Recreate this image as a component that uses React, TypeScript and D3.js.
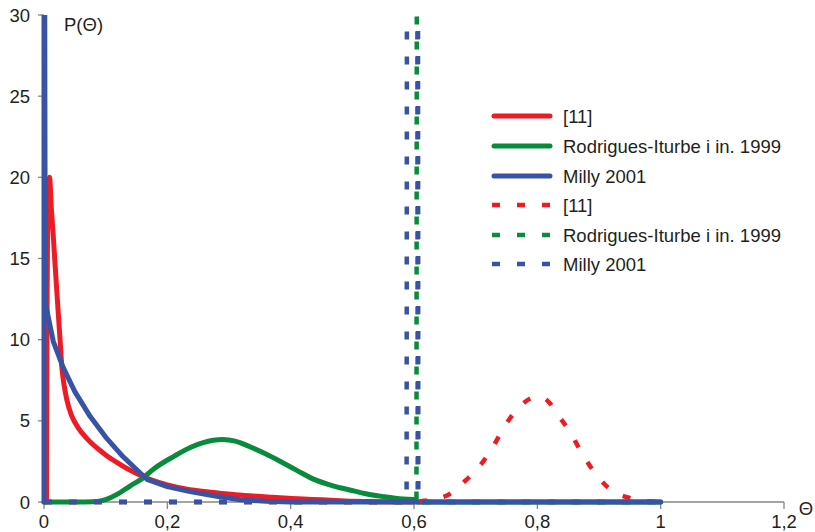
import React from "react";
import * as d3 from "d3";

const xTicks = [0, 0.2, 0.4, 0.6, 0.8, 1, 1.2];
const xTickLabels = ["0", "0,2", "0,4", "0,6", "0,8", "1", "1,2"];
const yTicks = [0, 5, 10, 15, 20, 25, 30];

const redSolidX = [0.004, 0.005, 0.007, 0.009, 0.012, 0.015, 0.018, 0.022, 0.026, 0.029, 0.033, 0.037, 0.045, 0.055, 0.065, 0.075, 0.09, 0.1, 0.12, 0.14, 0.156, 0.175, 0.2, 0.23, 0.27, 0.31, 0.37, 0.42, 0.45, 0.5, 0.6];
const redSolidY = [0, 12, 19.2, 20, 18, 16.4, 14.6, 12.3, 10, 8.3, 7.1, 6.3, 5.3, 4.6, 4.1, 3.7, 3.2, 2.9, 2.4, 1.95, 1.65, 1.35, 1.05, 0.8, 0.6, 0.45, 0.29, 0.18, 0.14, 0.04, 0];

const greenSolidX = [0, 0.05, 0.08, 0.1, 0.12, 0.14, 0.156, 0.18, 0.21, 0.24, 0.274, 0.29, 0.31, 0.334, 0.36, 0.388, 0.41, 0.44, 0.47, 0.496, 0.52, 0.55, 0.582, 0.6, 0.605, 0.61, 1.0];
const greenSolidY = [0, 0, 0.02, 0.15, 0.5, 1.0, 1.36, 2.1, 2.8, 3.4, 3.8, 3.85, 3.75, 3.4, 2.95, 2.4, 1.95, 1.36, 0.98, 0.74, 0.52, 0.33, 0.18, 0.15, 0, 0, 0];

const blueSolidX = [0, 0, 0.002, 0.015, 0.031, 0.05, 0.075, 0.1, 0.128, 0.15, 0.167, 0.2, 0.237, 0.28, 0.318, 0.36, 0.4, 0.6, 0.8, 1.0];
const blueSolidY = [0, 60, 12.3, 9.9, 8.3, 6.8, 5.26, 4.0, 2.8, 2.0, 1.4, 0.95, 0.64, 0.35, 0.14, 0.04, 0, 0, 0, 0];

const redDashX = [0, 0.3, 0.6, 0.62, 0.655, 0.68, 0.704, 0.728, 0.75, 0.775, 0.79, 0.804, 0.82, 0.831, 0.853, 0.874, 0.898, 0.923, 0.945, 0.966, 1.0];
const redDashY = [0, 0, 0, 0.1, 0.43, 1.2, 2.1, 3.4, 4.85, 6.0, 6.4, 6.5, 6.1, 5.5, 4.3, 2.9, 1.56, 0.64, 0.3, 0.1, 0];

const greenDashX = [0, 0.3, 0.604, 0.605, 0.606, 0.8, 1.0];
const greenDashY = [0, 0, 0, 60, 0, 0, 0];

const blueDashX = [0, 0.3, 0.588, 0.589, 0.606, 0.607, 0.8, 1.0];
const blueDashY = [0, 0, 0, 60, 60, 0, 0, 0];

const seriesNames = ["[11]", "Rodrigues-Iturbe i in. 1999", "Milly 2001", "[11]", "Rodrigues-Iturbe i in. 1999", "Milly 2001"];

const RED = "#ed1c24";
const GREEN = "#0a8a3c";
const BLUE = "#3953a4";
const AXIS = "#868686";
const TEXT = "#231f20";
const FONT = "'Liberation Sans', Arial, sans-serif";

export default function App() {
  const W = 815, H = 532;
  const x = d3.scaleLinear().domain([0, 1.2]).range([44, 784]);
  const y = d3.scaleLinear().domain([0, 30]).range([502, 15]);
  const line = d3.line<[number, number]>().x(d => x(d[0])).y(d => y(d[1])).curve(d3.curveMonotoneX);
  const straight = d3.line<[number, number]>().x(d => x(d[0])).y(d => y(d[1]));
  const zip = (xs: number[], ys: number[]) => xs.map((v, i) => [v, ys[i]] as [number, number]);

  const series = [
    { xs: redSolidX, ys: redSolidY, color: RED, dash: false },
    { xs: greenSolidX, ys: greenSolidY, color: GREEN, dash: false },
    { xs: blueSolidX, ys: blueSolidY, color: BLUE, dash: false },
    { xs: redDashX, ys: redDashY, color: RED, dash: true },
    { xs: greenDashX, ys: greenDashY, color: GREEN, dash: true },
    { xs: blueDashX, ys: blueDashY, color: BLUE, dash: true },
  ];

  const legendY = [116, 146, 176, 205, 235, 264];

  const pathFor = (s: { xs: number[]; ys: number[] }, i: number) => {
    const pts = zip(s.xs, s.ys);
    // series with vertical jumps are drawn with straight segments
    return (i === 0 || i === 1 || i === 3 ? line(pts) : straight(pts)) || "";
  };

  return (
    <svg width={W} height={H} style={{ position: "absolute", left: 0, top: 0, background: "#fff" }} fontFamily={FONT}>
      <defs>
        <clipPath id="plotClip">
          <rect x={40} y={15} width={760} height={492} />
        </clipPath>
      </defs>
      {/* axes */}
      <line x1={x(0)} x2={x(1.2)} y1={y(0)} y2={y(0)} stroke={AXIS} strokeWidth={1.3} />
      <line x1={x(0)} x2={x(0)} y1={y(0)} y2={y(30)} stroke={AXIS} strokeWidth={1.3} />
      {yTicks.map(t => (
        <g key={"y" + t}>
          <line x1={38} x2={x(0)} y1={y(t)} y2={y(t)} stroke={AXIS} strokeWidth={1.3} />
          <text x={30} y={y(t)} dy="0.36em" textAnchor="end" fontSize={18.5} fill={TEXT}>{t}</text>
        </g>
      ))}
      {xTicks.map((t, i) => (
        <g key={"x" + t}>
          <line x1={x(t)} x2={x(t)} y1={y(0)} y2={y(0) + 7} stroke={AXIS} strokeWidth={1.3} />
          <text x={x(t)} y={528} textAnchor="middle" fontSize={18.5} fill={TEXT}>{xTickLabels[i]}</text>
        </g>
      ))}
      <text x={64} y={31} fontSize={18.5} fill={TEXT}>P(Θ)</text>
      <text x={806} y={515} textAnchor="middle" fontSize={18.5} fill={TEXT}>Θ</text>

      {/* series */}
      <g clipPath="url(#plotClip)">
        {series.map((s, i) => (
          <path key={i} d={pathFor(s, i)} fill="none" stroke={s.color}
            strokeWidth={s.dash ? 4.5 : 5} strokeLinejoin="round" strokeLinecap={s.dash ? "butt" : "round"}
            strokeDasharray={s.dash ? "8 17" : undefined} />
        ))}
      </g>

      {/* legend */}
      {series.map((s, i) => (
        <g key={"l" + i}>
          <line x1={s.dash ? 492 : 494} x2={s.dash ? 552 : 550} y1={legendY[i]} y2={legendY[i]} stroke={s.color}
            strokeWidth={s.dash ? 4.5 : 5} strokeLinecap={s.dash ? "butt" : "round"}
            strokeDasharray={s.dash ? "8 17" : undefined} />
          <text x={563} y={legendY[i]} dy="0.36em" fontSize={18.5} fill={TEXT}>{seriesNames[i]}</text>
        </g>
      ))}
    </svg>
  );
}
